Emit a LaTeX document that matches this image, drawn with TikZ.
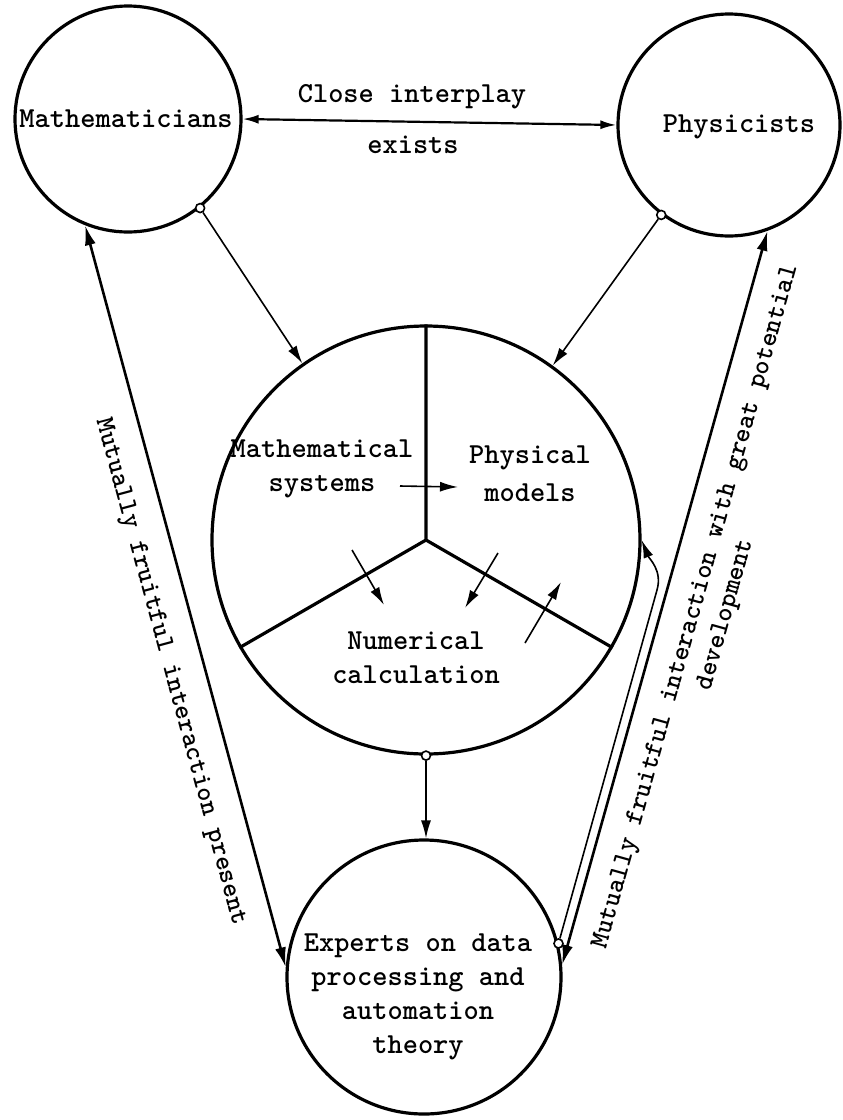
\documentclass[tikz,border=0pt]{standalone}
\usetikzlibrary{arrows.meta}

\begin{document}
\begin{tikzpicture}[x=1pt,y=1pt]
  \tikzset{group/.style={circle,draw,line width=3.2pt,inner sep=0pt},
    joint/.style={circle,draw,fill=white,line width=1.6pt,inner sep=0pt,minimum size=9pt},
    link/.style={line width=1.6pt,-{Latex[length=18pt,width=10pt]}},
    bond/.style={line width=2.6pt,{Latex[length=20pt,width=11pt]}-{Latex[length=20pt,width=11pt]}},
    word/.style={font=\fontsize{29}{34}\selectfont\ttfamily\bfseries,align=center,inner sep=0pt},
    slant/.style={font=\fontsize{27}{31}\selectfont\ttfamily\bfseries,align=center,inner sep=0pt,sloped}}
  \useasboundingbox (0,0) rectangle (843,-1120);
  \node[group,minimum size=226pt] (math) at (128,-119) {};
  \node[group,minimum size=222pt] (phys) at (729,-125) {};
  \node[group,minimum size=428pt] (calc) at (426,-540) {};
  \node[group,minimum size=274pt] (expt) at (424,-977) {};
  \node[word] (mathl) at (126,-119) {Mathematicians};
  \node[word] (physl) at (739,-127) {Physicists};
  \node[word] (close) at (412,-97) {Close interplay};
  \node[word] (exist) at (413,-145) {exists};
  \node[word] (msys) at (322,-469) {Mathematical\\systems};
  \node[word] (pmod) at (530,-474) {Physical\\[4pt]models};
  \node[word] (ncal) at (416,-658) {Numerical\\calculation};
  \node[word] (expl) at (418,-997) {Experts on data\\processing and\\automation\\theory};
  \node[joint] (mj) at (math.-51) {};
  \node[joint] (pj) at (phys.-127) {};
  \node[joint] (cj) at (calc.-90) {};
  \node[joint] (ej) at (expt.14) {};
  \draw[line width=3.2pt] (calc.center) -- (calc.90) (calc.center) -- (calc.210) (calc.center) -- (calc.330);
  \draw[link,line width=2.2pt,{Latex[length=16pt,width=9pt]}-{Latex[length=16pt,width=9pt]}] (math.east) -- (phys.west);
  \draw[link] (mj) -- (calc.125);
  \draw[link] (pj) -- (calc.54);
  \draw[link] (cj) -- (cj |- expt.north);
  \draw[bond] (math.-112) -- node[slant,below=22pt,pos=0.59] {Mutually fruitful interaction present} (expt.176);
  \draw[bond] (expt.5) -- node[slant,below=20pt] {Mutually fruitful interaction with great potential\\development} (phys.-70);
  \coordinate (bend) at (657,-590);
  \draw[link] (ej) -- (bend) to[out=74,in=-68] (calc.east);
  \coordinate (s1) at (400,-486);
  \coordinate (t1) at (458,-487);
  \coordinate (s2) at (352,-550);
  \coordinate (t2) at (384,-605);
  \coordinate (s3) at (498,-553);
  \coordinate (t3) at (465,-608);
  \coordinate (s4) at (525,-643);
  \coordinate (t4) at (561,-582);
  \draw[link] (s1) -- (t1);
  \draw[link] (s2) -- (t2);
  \draw[link] (s3) -- (t3);
  \draw[link] (s4) -- (t4);
\end{tikzpicture}
\end{document}
